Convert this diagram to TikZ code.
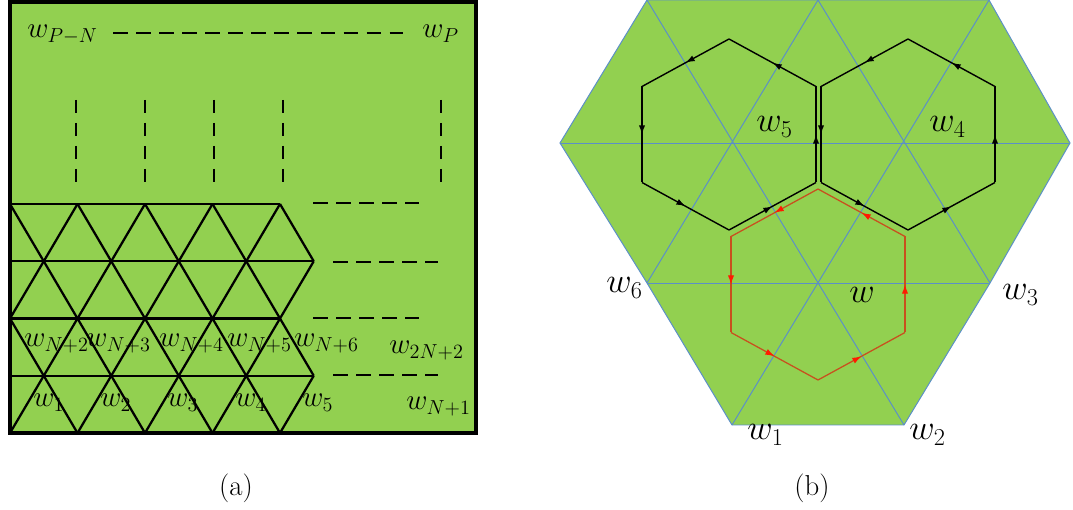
\documentclass[tikz,border=0pt]{standalone}
\usepackage{tikz}
\usetikzlibrary{arrows.meta,decorations.markings}
\definecolor{verde}{HTML}{92D050}
\definecolor{azul}{HTML}{5B8FC8}
\definecolor{rojo}{HTML}{C8501E}
\definecolor{rojovivo}{HTML}{FF1A00}
\tikzset{
  malla/.style={line width=1.6pt,black},
  borde/.style={line width=2.3pt,black},
  puntos/.style={line width=2.1pt,black,dash pattern=on 10.5pt off 5.9pt},
  puntosv/.style={line width=2.1pt,black,dash pattern=on 9.2pt off 7.1pt},
  red/.style={line width=.7pt,azul},
  etiq/.style={anchor=base west,inner sep=0pt,font=\fontsize{21}{25}\selectfont},
  etiqb/.style={etiq,font=\fontsize{24}{28}\selectfont},
  pie/.style={inner sep=0pt,font=\fontsize{20.5}{24}\selectfont},
  flechanegra/.style={line width=1pt,black,postaction={decorate},
    decoration={markings,mark=at position .5 with {\arrow{Latex[length=6.5pt,width=4.5pt]}}}},
  flecharoja/.style={line width=.9pt,rojo,postaction={decorate},
    decoration={markings,mark=at position .5 with {\arrow{Latex[length=6.5pt,width=4.5pt,color=rojovivo]}}}},
}
% hexagono con flechas: nombre, cx, cy, estilo
\newcommand{\celda}[4]{%
  \coordinate (#1t) at (#2,#3-95.5);
  \coordinate (#1ul) at (#2-87,#3-48);
  \coordinate (#1ll) at (#2-87,#3+48);
  \coordinate (#1b) at (#2,#3+95.5);
  \coordinate (#1lr) at (#2+87,#3+48);
  \coordinate (#1ur) at (#2+87,#3-48);
  \foreach \a/\b in {t/ul,ul/ll,ll/b,b/lr,lr/ur,ur/t}
    \draw[#4] (#1\a) -- (#1\b);
}

\begin{document}
\begin{tikzpicture}[x=0.025cm,y=-0.025cm]
  \useasboundingbox (0,0) rectangle (1073,510);

  % (a) malla triangular
  \fill[verde] (10,2) rectangle (476,433);
  \foreach \k in {0,1,2}{
    \draw[malla] (10+67.5*\k,204) -- (145+67.5*\k,433);
    \draw[malla] (10+67.5*\k,433) -- (145+67.5*\k,204);
  }
  \draw[malla] (212.5,204) -- (313.75,375.75);
  \draw[malla] (280,204) -- (313.75,261.25);
  \draw[malla] (10,318.5) -- (77.5,433);
  \draw[malla] (212.5,433) -- (313.75,261.25);
  \draw[malla] (280,433) -- (313.75,375.75);
  \draw[malla] (10,318.5) -- (77.5,204);
  \foreach \y/\xf in {204/280,261.25/313.75,318.5/280,375.75/313.75}
    \draw[malla] (10,\y) -- (\xf,\y);
  \draw[borde] (10,2) rectangle (476,433);

  \draw[puntos] (113,33) -- (403,33);
  \foreach \x in {76,145,214,283,441}
    \draw[puntosv] (\x,100) -- (\x,182);
  \draw[puntos] (313,203) -- (419,203);
  \draw[puntos] (333,262) -- (438,262);
  \draw[puntos] (313,318) -- (419,318);
  \draw[puntos] (333,375) -- (438,375);

  \node[etiq] (wPN) at (27,38) {$w_{P-N}$};
  \node[etiq] (wP) at (422,38) {$w_P$};
  \node[etiq] (wN2) at (24,347) {$w_{N+2}$};
  \node[etiq] (wN3) at (86,347) {$w_{N+3}$};
  \node[etiq] (wN4) at (159,347) {$w_{N+4}$};
  \node[etiq] (wN5) at (227,347) {$w_{N+5}$};
  \node[etiq] (wN6) at (294,347) {$w_{N+6}$};
  \node[etiq] (w2N2) at (389,354) {$w_{2N+2}$};
  \node[etiq] (wa1) at (33,407) {$w_1$};
  \node[etiq] (wa2) at (100,407) {$w_2$};
  \node[etiq] (wa3) at (167,407) {$w_3$};
  \node[etiq] (wa4) at (235,407) {$w_4$};
  \node[etiq] (wa5) at (302,407) {$w_5$};
  \node[etiq] (wN1) at (406,410) {$w_{N+1}$};

  % (b) vecindad hexagonal
  \coordinate (A0) at (647,0);   \coordinate (A1) at (818,0);   \coordinate (A2) at (989,0);
  \coordinate (B0) at (560,143); \coordinate (B3) at (1070,143);
  \coordinate (C0) at (647,283); \coordinate (C2) at (990,283);
  \coordinate (D0) at (732,425); \coordinate (D1) at (904,425);
  \filldraw[red,fill=verde] (A0) -- (A2) -- (B3) -- (C2) -- (D1) -- (D0) -- (C0) -- (B0) -- cycle;
  \draw[red] (B0) -- (B3);
  \draw[red] (C0) -- (C2);
  \draw[red] (A0) -- (D1);
  \draw[red] (A1) -- (C2);
  \draw[red] (D0) -- (A2);
  \draw[red] (C0) -- (A1);

  \celda{h5}{729}{134.5}{flechanegra}
  \celda{h4}{908}{134.5}{flechanegra}
  \celda{h0}{818}{284.5}{flecharoja}

  \node[etiqb] (w5) at (756,132) {$w_5$};
  \node[etiqb] (w4) at (929,132) {$w_4$};
  \node[etiqb] (w6) at (606,293) {$w_6$};
  \node[etiqb] (w) at (849,303) {$w$};
  \node[etiqb] (w3) at (1002,300) {$w_3$};
  \node[etiqb] (w1) at (747,440) {$w_1$};
  \node[etiqb] (w2) at (909,440) {$w_2$};

  \node[pie] (capa) at (236,488) {(a)};
  \node[pie] (capb) at (812,488) {(b)};
\end{tikzpicture}
\end{document}
